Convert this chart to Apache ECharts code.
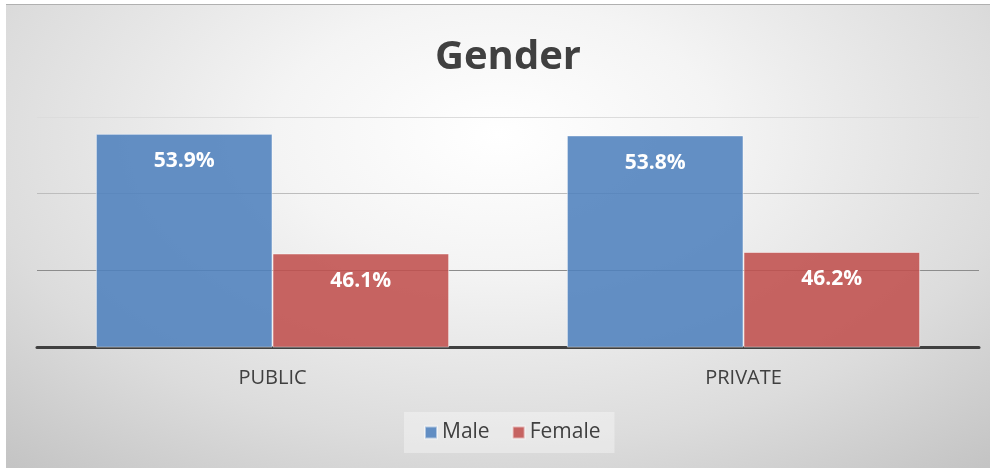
<!DOCTYPE html>
<html>
<head>
<meta charset="utf-8">
<script src="https://cdn.jsdelivr.net/npm/echarts@6/dist/echarts.min.js"></script>
<style>
  html, body { margin: 0; padding: 0; background: #ffffff; }
  #frame {
    position: absolute; left: 6px; top: 4px; width: 984px; height: 464px;
    border-top: 1px solid #b0b0b0;
    background: radial-gradient(ellipse 75% 95% at 50% 28%, #ffffff 0%, #f4f4f4 30%, #dcdcdc 70%, #c4c4c4 100%);
  }
  #chart { position: absolute; left: 0; top: 0; width: 999px; height: 468px; }
</style>
</head>
<body>
<div id="frame"></div>
<div id="chart"></div>
<script>
const titleText = 'Gender';
const categories = ['PUBLIC', 'PRIVATE'];
const seriesNames = ['Male', 'Female'];
const maleValues = [53.9, 53.8];
const femaleValues = [46.1, 46.2];
const yMin = 40, yMax = 55, yStep = 5;

const chart = echarts.init(document.getElementById('chart'), null, { renderer: 'canvas' });
const font = '"Open Sans", "DejaVu Sans", sans-serif';
const labelCfg = {
  show: true, position: 'insideTop', distance: 17,
  color: '#ffffff', fontWeight: 'bold', fontSize: 21, fontFamily: font,
  formatter: p => p.value.toFixed(1) + '%'
};
chart.setOption({
  backgroundColor: 'transparent',
  animation: false,
  title: {
    text: titleText, left: 430, top: 33,
    textStyle: { fontFamily: font, fontWeight: 'bold', fontSize: 40, color: '#404040' }
  },
  legend: {
    data: seriesNames, bottom: 15, left: 404,
    icon: 'rect', itemWidth: 12, itemHeight: 12, itemGap: 22,
    backgroundColor: 'rgba(255,255,255,0.35)', padding: [10, 14, 10, 20],
    textStyle: { fontFamily: font, fontSize: 21, color: '#404040' }
  },
  grid: { left: 37, right: 20, top: 117, bottom: 121 },
  xAxis: {
    type: 'category', data: categories,
    axisLine: { lineStyle: { color: '#404040', width: 3 } },
    axisTick: { show: false },
    axisLabel: { fontFamily: font, fontSize: 20, color: '#404040', margin: 21 }
  },
  yAxis: {
    type: 'value', min: yMin, max: yMax, interval: yStep,
    axisLabel: { show: false }, axisLine: { show: false }, axisTick: { show: false },
    splitLine: { lineStyle: { color: ['#808080', '#8c8c8c', '#bdbdbd', '#dcdcdc'], width: 1 } }
  },
  series: [
    {
      name: seriesNames[0], type: 'bar', data: maleValues,
      barGap: '0%', barCategoryGap: '25%',
      itemStyle: { color: 'rgba(79,129,189,0.88)', borderColor: 'rgba(255,255,255,0.5)', borderWidth: 1 },
      label: labelCfg
    },
    {
      name: seriesNames[1], type: 'bar', data: femaleValues,
      barGap: '0%', barCategoryGap: '25%',
      itemStyle: { color: 'rgba(192,80,77,0.88)', borderColor: 'rgba(255,255,255,0.5)', borderWidth: 1 },
      label: labelCfg
    }
  ]
});
</script>
</body>
</html>
